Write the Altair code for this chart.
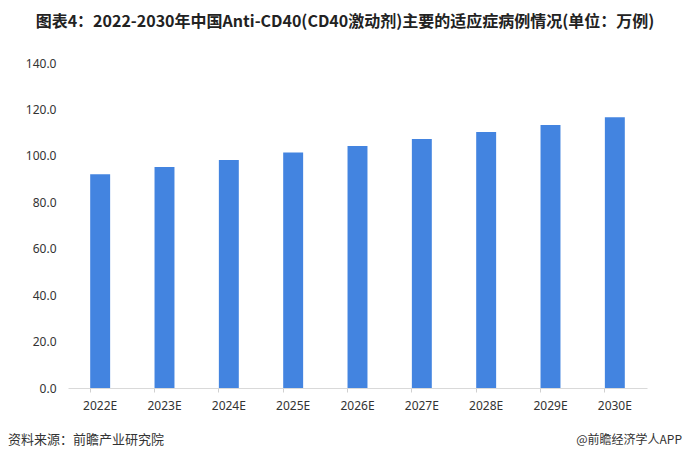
import altair as alt
import pandas as pd

years = ["2022E", "2023E", "2024E", "2025E", "2026E", "2027E", "2028E", "2029E", "2030E"]
cases = [92.1, 95.2, 98.2, 101.5, 104.3, 107.3, 110.3, 113.3, 116.6]

title_text = "图表4：2022-2030年中国Anti-CD40(CD40激动剂)主要的适应症病例情况(单位：万例)"
source_text = "资料来源：前瞻产业研究院"
credit_text = "@前瞻经济学人APP"

df = pd.DataFrame({"year": years, "cases": cases})

W, H = 579, 325
PL, PT = 68, 63

base = alt.Chart(df)
xscale = alt.Scale(paddingInner=0.69, paddingOuter=0.345)

bars = base.mark_bar(color="#4384E0").encode(
    x=alt.X("year:N", sort=years, title=None, scale=xscale,
            axis=alt.Axis(orient="bottom", labelAngle=0, labelFontSize=12, labelColor="#333333",
                          labelFont="Noto Sans, DejaVu Sans",
                          labelPadding=12, ticks=False, domainColor="#d9d9d9")),
    y=alt.Y("cases:Q", title=None,
            scale=alt.Scale(domain=[0, 140]),
            axis=alt.Axis(values=[0, 20, 40, 60, 80, 100, 120, 140], format=".1f",
                          grid=False, domain=False, ticks=False, labelPadding=12,
                          labelFontSize=12, labelColor="#333333",
                          labelFont="Noto Sans, DejaVu Sans")),
)

ticks = base.mark_bar(opacity=0).encode(
    x=alt.X("year:N", sort=years, title=None, scale=xscale,
            axis=alt.Axis(orient="bottom", labels=False, domain=False, ticks=True, tickSize=4,
                          tickColor="#d0d0d0", bandPosition=0)),
    y=alt.Y("cases:Q"),
)

title = alt.Chart(pd.DataFrame({"t": [title_text]})).mark_text(
    fontSize=16, fontWeight="bold", color="#222222",
    font="Noto Sans CJK SC", align="center", baseline="middle"
).encode(x=alt.value(277), y=alt.value(-41), text="t:N")

src = alt.Chart(pd.DataFrame({"t": [source_text]})).mark_text(
    fontSize=13, color="#333333", font="Noto Sans CJK SC", align="left", baseline="middle"
).encode(x=alt.value(-60), y=alt.value(377), text="t:N")

cred = alt.Chart(pd.DataFrame({"t": [credit_text]})).mark_text(
    fontSize=12, color="#333333", font="Noto Sans CJK SC", align="right", baseline="middle"
).encode(x=alt.value(614), y=alt.value(377), text="t:N")

chart = alt.layer(bars, ticks, title, src, cred).resolve_axis(
    x="independent"
).properties(
    width=W, height=H,
    autosize=alt.AutoSizeParams(type="none"),
    padding={"left": PL, "top": PT, "right": 690 - PL - W, "bottom": 462 - PT - H},
    background="white",
).configure_view(stroke=None)

chart.save("out.html", embed_options={"renderer": "svg", "actions": False})
